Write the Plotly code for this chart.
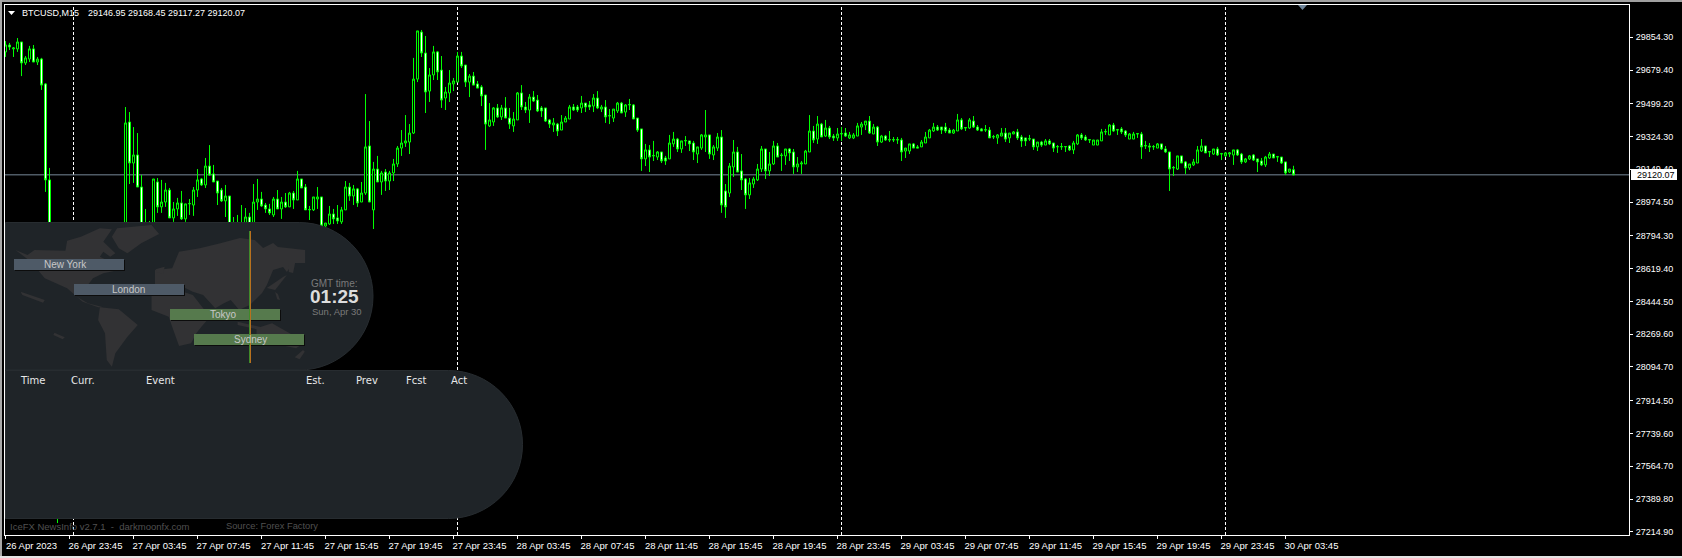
# BTCUSD M15 terminal chart with the session and news panels on top

import pandas as pd
import plotly.graph_objects as go

# 15 minute bars (bars 12-29 sit behind the panel, estimated)
opens = [
    29776, 29813, 29792, 29792, 29829, 29717, 29738, 29792, 29722, 29738,
    29605, 29093, 28799, 28452, 27812, 28025, 27919, 28185, 28079, 28292,
    28399, 28265, 28452, 28532, 28426, 28559, 28639, 28532, 28666, 28719,
    28772, 29402, 29183, 29226, 29055, 28826, 28772, 28837, 29082, 28949,
    28975, 29039, 28890, 28938, 28970, 28885, 28965, 28959, 29039, 29098,
    29066, 29167, 29125, 29087, 29039, 28981, 29007, 28799, 28837, 28837,
    28858, 28895, 28847, 28975, 28991, 28959, 28938, 28906, 28991, 28938,
    28975, 28949, 29023, 28986, 29098, 29055, 28933, 28933, 28991, 29002,
    28847, 28858, 28911, 28890, 28869, 28933, 29055, 29007, 29045, 28975,
    29023, 29274, 28933, 29151, 29082, 29135, 29087, 29130, 29178, 29263,
    29290, 29295, 29343, 29631, 29882, 29770, 29567, 29653, 29776, 29679,
    29530, 29557, 29605, 29615, 29754, 29706, 29615, 29647, 29605, 29589,
    29546, 29381, 29402, 29477, 29429, 29477, 29423, 29381, 29413, 29557,
    29482, 29466, 29535, 29519, 29477, 29477, 29413, 29386, 29391, 29359,
    29402, 29418, 29482, 29482, 29477, 29503, 29493, 29487, 29530, 29471,
    29482, 29434, 29423, 29461, 29503, 29455, 29493, 29493, 29423, 29365,
    29205, 29253, 29221, 29215, 29242, 29210, 29205, 29285, 29311, 29258,
    29301, 29301, 29290, 29231, 29263, 29322, 29333, 29226, 29263, 29322,
    29034, 29023, 29162, 29242, 29141, 29098, 29013, 29071, 29093, 29151,
    29258, 29141, 29178, 29274, 29223, 29221, 29258, 29242, 29162, 29178,
    29178, 29242, 29354, 29311, 29391, 29327, 29370, 29327, 29317, 29338,
    29343, 29317, 29317, 29327, 29375, 29386, 29407, 29338, 29375, 29295,
    29327, 29306, 29306, 29306, 29306, 29247, 29247, 29285, 29269, 29269,
    29290, 29317, 29354, 29375, 29375, 29375, 29359, 29343, 29354, 29413,
    29370, 29370, 29407, 29375, 29365, 29359, 29359, 29322, 29317, 29327,
    29343, 29317, 29338, 29349, 29322, 29317, 29311, 29311, 29269, 29295,
    29279, 29301, 29290, 29269, 29269, 29269, 29274, 29253, 29285, 29333,
    29322, 29306, 29279, 29279, 29301, 29349, 29333, 29386, 29359, 29365,
    29354, 29311, 29311, 29338, 29338, 29274, 29274, 29269, 29263, 29285,
    29258, 29242, 29157, 29151, 29221, 29189, 29157, 29173, 29183, 29247,
    29274, 29242, 29231, 29258, 29231, 29221, 29231, 29226, 29253, 29231,
    29189, 29205, 29226, 29205, 29194, 29173, 29210, 29231, 29215, 29215,
    29189, 29135, 29146.95,
]
highs = [
    29834, 29824, 29802, 29850, 29829, 29754, 29808, 29813, 29749, 29744,
    29610, 29157, 28815, 28506, 28079, 28132, 28239, 28265, 28346, 28479,
    28452, 28532, 28612, 28586, 28639, 28719, 28692, 28746, 28772, 28815,
    29482, 29455, 29375, 29343, 29119, 28938, 28874, 29098, 29103, 29093,
    29077, 29050, 28975, 28997, 29034, 28965, 28991, 29055, 29151, 29103,
    29210, 29279, 29173, 29087, 29050, 29066, 29007, 28895, 28906, 28959,
    28943, 28917, 29071, 29098, 29029, 28970, 28965, 29002, 29039, 29002,
    29023, 29029, 29034, 29141, 29098, 29071, 28954, 29002, 29055, 29002,
    28863, 28954, 28938, 28959, 28949, 29087, 29077, 29066, 29050, 29082,
    29551, 29407, 29189, 29221, 29141, 29151, 29141, 29205, 29274, 29359,
    29439, 29391, 29744, 29888, 29893, 29861, 29690, 29808, 29781, 29754,
    29589, 29679, 29637, 29776, 29776, 29706, 29658, 29669, 29621, 29599,
    29546, 29503, 29482, 29498, 29493, 29535, 29477, 29455, 29562, 29599,
    29509, 29551, 29567, 29546, 29487, 29477, 29418, 29423, 29397, 29439,
    29434, 29493, 29498, 29493, 29541, 29503, 29514, 29551, 29567, 29493,
    29519, 29471, 29471, 29509, 29509, 29498, 29525, 29498, 29423, 29365,
    29285, 29279, 29301, 29247, 29242, 29221, 29333, 29349, 29317, 29301,
    29327, 29301, 29301, 29269, 29338, 29466, 29333, 29279, 29343, 29359,
    29071, 29183, 29306, 29269, 29231, 29103, 29103, 29109, 29178, 29274,
    29258, 29242, 29301, 29290, 29237, 29258, 29263, 29258, 29215, 29194,
    29253, 29439, 29381, 29434, 29397, 29413, 29381, 29338, 29370, 29375,
    29370, 29349, 29343, 29397, 29402, 29407, 29434, 29391, 29381, 29333,
    29333, 29354, 29322, 29322, 29317, 29263, 29285, 29290, 29279, 29306,
    29349, 29365, 29397, 29386, 29375, 29397, 29370, 29365, 29445, 29423,
    29375, 29423, 29434, 29386, 29370, 29386, 29375, 29333, 29338, 29370,
    29370, 29343, 29354, 29365, 29333, 29317, 29333, 29311, 29295, 29301,
    29311, 29311, 29290, 29279, 29290, 29271, 29279, 29301, 29338, 29343,
    29333, 29311, 29306, 29306, 29365, 29365, 29391, 29397, 29365, 29375,
    29359, 29343, 29349, 29343, 29349, 29301, 29290, 29279, 29290, 29285,
    29274, 29242, 29167, 29221, 29221, 29194, 29178, 29205, 29274, 29311,
    29274, 29247, 29258, 29269, 29237, 29242, 29242, 29253, 29258, 29237,
    29210, 29226, 29231, 29205, 29210, 29221, 29242, 29231, 29221, 29215,
    29189, 29151, 29168.45,
]
lows = [
    29749, 29786, 29749, 29776, 29647, 29706, 29722, 29722, 29706, 29573,
    29029, 28746, 28346, 27262, 27705, 27812, 27865, 28025, 27999, 28239,
    28212, 28212, 28399, 28372, 28372, 28506, 28479, 28479, 28612, 28666,
    28746, 29071, 29077, 29055, 28772, 28719, 28719, 28815, 28917, 28917,
    28949, 28890, 28869, 28901, 28879, 28869, 28906, 28901, 29002, 29061,
    29050, 29114, 29082, 28959, 28975, 28895, 28826, 28772, 28772, 28815,
    28837, 28826, 28826, 28933, 28949, 28917, 28906, 28895, 28938, 28885,
    28943, 28949, 28938, 28986, 29050, 28933, 28879, 28927, 28938, 28826,
    28842, 28853, 28858, 28858, 28858, 28933, 28981, 28959, 28949, 28975,
    29013, 28975, 28831, 29082, 29013, 29034, 29039, 29087, 29162, 29221,
    29269, 29231, 29338, 29615, 29749, 29450, 29509, 29626, 29626, 29477,
    29466, 29509, 29567, 29615, 29690, 29589, 29535, 29599, 29583, 29487,
    29253, 29375, 29381, 29423, 29413, 29423, 29365, 29349, 29413, 29466,
    29450, 29397, 29509, 29455, 29429, 29402, 29370, 29349, 29327, 29359,
    29402, 29418, 29461, 29455, 29450, 29455, 29466, 29455, 29471, 29455,
    29397, 29391, 29402, 29450, 29450, 29429, 29466, 29418, 29349, 29141,
    29167, 29135, 29194, 29199, 29183, 29173, 29205, 29269, 29242, 29237,
    29274, 29247, 29199, 29183, 29253, 29242, 29205, 29199, 29247, 28917,
    28890, 29002, 29109, 29135, 29039, 28938, 28991, 29050, 29087, 29135,
    29098, 29114, 29173, 29215, 29141, 29173, 29194, 29125, 29135, 29125,
    29178, 29242, 29290, 29285, 29322, 29322, 29311, 29301, 29301, 29301,
    29322, 29311, 29311, 29327, 29333, 29359, 29338, 29338, 29274, 29290,
    29301, 29295, 29295, 29285, 29194, 29210, 29231, 29263, 29263, 29269,
    29290, 29317, 29349, 29354, 29338, 29343, 29343, 29338, 29354, 29359,
    29354, 29365, 29370, 29354, 29354, 29349, 29317, 29311, 29285, 29327,
    29295, 29290, 29338, 29306, 29269, 29274, 29301, 29253, 29247, 29269,
    29279, 29279, 29242, 29237, 29253, 29242, 29247, 29231, 29279, 29306,
    29301, 29290, 29279, 29279, 29301, 29333, 29333, 29349, 29333, 29338,
    29322, 29311, 29311, 29317, 29205, 29258, 29242, 29253, 29263, 29253,
    29237, 29034, 29114, 29146, 29183, 29125, 29146, 29167, 29183, 29242,
    29237, 29215, 29226, 29221, 29199, 29215, 29215, 29173, 29221, 29178,
    29183, 29199, 29194, 29135, 29167, 29162, 29205, 29210, 29189, 29178,
    29119, 29130, 29117.27,
]
closes = [
    29813, 29802, 29797, 29829, 29717, 29744, 29792, 29722, 29738, 29599,
    29093, 28799, 28452, 27812, 28025, 27919, 28185, 28079, 28292, 28399,
    28265, 28452, 28532, 28426, 28559, 28639, 28532, 28666, 28719, 28772,
    29397, 29183, 29226, 29055, 28799, 28772, 28815, 29098, 28949, 28975,
    29039, 28890, 28938, 28970, 28885, 28965, 28967, 29039, 29093, 29066,
    29167, 29119, 29082, 29023, 28981, 29007, 28837, 28837, 28804, 28858,
    28895, 28847, 28975, 28991, 28954, 28938, 28917, 28991, 28938, 28975,
    28949, 29023, 28986, 29098, 29050, 28933, 28935, 29002, 29002, 28847,
    28863, 28911, 28885, 28874, 28933, 29055, 29007, 29045, 28970, 29023,
    29269, 28975, 29151, 29082, 29130, 29087, 29130, 29178, 29263, 29290,
    29301, 29343, 29631, 29888, 29770, 29562, 29653, 29776, 29669, 29519,
    29562, 29610, 29621, 29754, 29701, 29615, 29647, 29599, 29583, 29541,
    29391, 29413, 29477, 29429, 29477, 29423, 29391, 29418, 29557, 29482,
    29466, 29535, 29514, 29461, 29461, 29407, 29391, 29397, 29354, 29402,
    29423, 29482, 29466, 29466, 29503, 29482, 29482, 29530, 29477, 29482,
    29429, 29436, 29471, 29503, 29450, 29493, 29495, 29418, 29359, 29205,
    29253, 29215, 29223, 29242, 29194, 29194, 29290, 29311, 29258, 29301,
    29303, 29285, 29242, 29269, 29333, 29333, 29231, 29269, 29322, 28959,
    28949, 29167, 29242, 29135, 29093, 29013, 29077, 29098, 29151, 29258,
    29141, 29178, 29274, 29215, 29225, 29258, 29237, 29162, 29178, 29183,
    29247, 29354, 29306, 29391, 29322, 29370, 29322, 29317, 29338, 29340,
    29327, 29333, 29333, 29381, 29391, 29407, 29343, 29375, 29295, 29327,
    29306, 29308, 29308, 29308, 29242, 29263, 29285, 29263, 29263, 29295,
    29322, 29359, 29375, 29359, 29359, 29354, 29343, 29359, 29413, 29365,
    29372, 29413, 29375, 29359, 29354, 29361, 29317, 29324, 29333, 29343,
    29311, 29343, 29349, 29317, 29301, 29301, 29313, 29269, 29295, 29279,
    29301, 29285, 29263, 29271, 29271, 29271, 29253, 29290, 29333, 29317,
    29306, 29308, 29306, 29306, 29349, 29351, 29386, 29354, 29361, 29349,
    29333, 29338, 29338, 29340, 29269, 29276, 29269, 29271, 29285, 29258,
    29242, 29151, 29159, 29221, 29183, 29157, 29178, 29189, 29253, 29274,
    29237, 29244, 29258, 29226, 29233, 29237, 29237, 29253, 29226, 29189,
    29205, 29221, 29199, 29189, 29173, 29215, 29231, 29210, 29217, 29183,
    29130, 29151, 29120.07,
]

price_ticks = [
    29854.30, 29679.40, 29499.20, 29324.30, 29149.40, 28974.50, 28794.30, 28619.40,
    28444.50, 28269.60, 28094.70, 27914.50, 27739.60, 27564.70, 27389.80, 27214.90,
]
time_labels = [
    "26 Apr 2023", "26 Apr 23:45", "27 Apr 03:45", "27 Apr 07:45", "27 Apr 11:45",
    "27 Apr 15:45", "27 Apr 19:45", "27 Apr 23:45", "28 Apr 03:45", "28 Apr 07:45",
    "28 Apr 11:45", "28 Apr 15:45", "28 Apr 19:45", "28 Apr 23:45", "29 Apr 03:45",
    "29 Apr 07:45", "29 Apr 11:45", "29 Apr 15:45", "29 Apr 19:45", "29 Apr 23:45",
    "30 Apr 03:45",
]
day_starts = ["2023-04-27 00:00", "2023-04-28 00:00", "2023-04-29 00:00", "2023-04-30 00:00"]
last_price = 29120.07

WIDTH, HEIGHT = 1682, 558
LEFT, RIGHT, TOP, BOTTOM = 5, 1629, 5, 535
BAR_PX = 4
LABEL_FONT = "Liberation Sans"
WHITE = "#ffffff"
PANEL = "#1f2428"
LAND = "#323234"
GREY_TEXT = "#7a7a7a"


def px(x):
    return (x - LEFT) / (RIGHT - LEFT)


def py(y):
    return (BOTTOM - y) / (BOTTOM - TOP)


def rect(x0, y0, x1, y1, color):
    return dict(type="rect", xref="paper", yref="paper", layer="above",
                x0=px(x0), x1=px(x1), y0=py(y0), y1=py(y1),
                fillcolor=color, line=dict(width=0))


def outline(points, color):
    path = "M" + " L".join(f"{px(x):.5f},{py(y):.5f}" for x, y in points) + " Z"
    return dict(type="path", xref="paper", yref="paper", layer="above", path=path,
                fillcolor=color, line=dict(width=0))


def rounded_panel(x_right, y0, y1):
    # flat on the left, half circle on the right
    r = (y1 - y0) / 2
    k = r * 0.5523
    x_start = x_right - r
    ym = (y0 + y1) / 2
    path = (
        f"M{px(LEFT + 0.5)},{py(y0)} L{px(x_start)},{py(y0)} "
        f"C{px(x_start + k)},{py(y0)} {px(x_right)},{py(ym - k)} {px(x_right)},{py(ym)} "
        f"C{px(x_right)},{py(ym + k)} {px(x_start + k)},{py(y1)} {px(x_start)},{py(y1)} "
        f"L{px(LEFT + 0.5)},{py(y1)} Z"
    )
    return dict(type="path", xref="paper", yref="paper", layer="above", path=path,
                fillcolor=PANEL, line=dict(color="#272c30", width=1))


def label(x, y, text, size=10, color=WHITE, anchor="center", family=LABEL_FONT, bold=False):
    return dict(xref="paper", yref="paper", x=px(x), y=py(y), text=f"<b>{text}</b>" if bold else text,
                xanchor=anchor, yanchor="middle", showarrow=False, align="left",
                font=dict(family=family, size=size, color=color))


def map_points(points):
    # outline points are taken from the 2.9x / 3x crop of the panel
    return [(x / 2.904, 220 + y / 3) for x, y in points]


north_america = [(45, 90), (80, 105), (100, 90), (190, 92), (195, 62), (235, 50), (290, 25), (325, 28),
                 (300, 65), (335, 100), (320, 110), (300, 95), (290, 110), (330, 130), (360, 135),
                 (345, 150), (300, 160), (270, 175), (255, 195), (215, 200), (215, 225), (255, 250),
                 (300, 262), (285, 262), (240, 245), (195, 205), (130, 175), (90, 125)]
south_america = [(290, 262), (345, 268), (400, 315), (370, 350), (335, 400), (325, 440), (310, 420),
                 (305, 340), (285, 300)]
greenland = [(325, 50), (340, 25), (440, 15), (462, 42), (410, 70), (370, 100), (345, 85)]
eurasia = [(450, 150), (500, 145), (520, 95), (580, 85), (640, 70), (697, 54), (740, 60), (764, 84),
           (793, 69), (807, 81), (886, 90), (886, 129), (851, 129), (833, 156), (822, 141), (793, 150),
           (775, 195), (761, 219), (726, 255), (706, 264), (695, 270), (670, 240), (650, 250),
           (625, 265), (590, 225), (560, 215), (530, 200), (495, 205), (450, 195)]
africa = [(440, 225), (500, 205), (560, 225), (590, 265), (610, 290), (585, 320), (570, 340),
          (555, 370), (520, 378), (500, 320), (490, 290), (440, 270)]
australia = [(745, 325), (790, 310), (850, 345), (880, 370), (860, 385), (790, 370), (745, 365)]
new_zealand = [(880, 390), (885, 395), (870, 418), (856, 412)]
sakhalin = [(837, 129), (857, 129), (851, 159), (839, 156)]
japan = [(822, 171), (833, 165), (799, 210), (775, 204)]
philippines = [(799, 216), (807, 222), (813, 240), (805, 238)]
indonesia = [(690, 305), (760, 322), (755, 330), (690, 315)]
pacific_isles = [(60, 215), (130, 240), (125, 248), (65, 225)]
caribbean = [(158, 338), (188, 352), (182, 358), (155, 345)]
britain = [(452, 148), (478, 140), (474, 160), (455, 158)]

times = pd.date_range("2023-04-26 19:45", periods=len(opens), freq="15min")
bar = pd.Timedelta(minutes=15)
x_start = times[0] - bar * 0.5 / BAR_PX
x_end = x_start + bar * (RIGHT - LEFT) / BAR_PX

fig = go.Figure(
    go.Candlestick(
        x=times, open=opens, high=highs, low=lows, close=closes,
        increasing=dict(line=dict(color="#00ff00", width=1), fillcolor="#000000"),
        decreasing=dict(line=dict(color="#00ff00", width=1), fillcolor="#ffffff"),
        whiskerwidth=0,
    )
)

shapes = []

# Day separators and the bid line, under the candles
for day in day_starts:
    shapes.append(dict(type="line", xref="x", yref="paper", layer="below", x0=day, x1=day, y0=0, y1=1,
                       line=dict(color=WHITE, width=1, dash="3px,2px")))
shapes.append(dict(type="line", xref="paper", yref="y", layer="below", x0=0, x1=1,
                   y0=last_price, y1=last_price, line=dict(color="#778899", width=1)))

# Window edges around the chart
shapes += [rect(0, 0, WIDTH, 2, "#a0a0a0"), rect(0, 0, 2, HEIGHT, "#a8a8a8"),
           rect(0, 556, WIDTH, HEIGHT, "#e4e4e4")]

# Markers at the top
shapes.append(outline([(8, 11), (15, 11), (11.5, 15)], WHITE))
shapes.append(outline([(1298, 5), (1307, 5), (1302.5, 10)], "#6e8499"))

# Last price box hides the tick label under it
shapes.append(rect(1631, 169, 1677, 180, WHITE))

# Panels
shapes.append(rounded_panel(373, 222.5, 370))
shapes.append(rounded_panel(522.5, 370.5, 518.5))
for land in [north_america, south_america, greenland, eurasia, africa, australia, new_zealand,
             sakhalin, japan, philippines, indonesia, pacific_isles, caribbean, britain]:
    shapes.append(outline(map_points(land), LAND))

# Session bars
sessions = [
    ("New York", 14, 124, 259, "#4e5a67", 65),
    ("London", 74, 184, 284, "#4e5a67", 128),
    ("Tokyo", 170, 280, 309, "#567a4d", 224),
    ("Sydney", 194, 304, 334, "#567a4d", 250.5),
]
annotations = []
for name, x0, x1, y0, color, text_x in sessions:
    shapes.append(rect(x0 + 1, y0 + 1, x1 + 1, y0 + 12, "#0c0c0c"))
    shapes.append(rect(x0, y0, x1, y0 + 11, color))
    annotations.append(label(text_x, y0 + 5.5, name, size=10, color="#c8c8c8"))

shapes.append(rect(249, 231, 250, 363, "#3f8a2a"))
shapes.append(rect(250, 231, 251, 363, "#b8701e"))

annotations += [
    label(20, 12.5, "BTCUSD,M15", size=9, anchor="left"),
    label(86, 12.5, "29146.95 29168.45 29117.27 29120.07", size=9, anchor="left"),
    label(334, 283, "GMT time:", size=10, color=GREY_TEXT),
    label(334.5, 296, "01:25", size=19, color="#dcdcdc", bold=True),
    label(336.5, 311, "Sun, Apr 30", size=9.5, color=GREY_TEXT),
    label(7.5, 526, "IceFX NewsInfo v2.7.1&nbsp;&nbsp;-&nbsp;&nbsp;darkmoonfx.com", size=9.5, color="#505050", anchor="left"),
    label(224, 526, "Source: Forex Factory", size=9.3, color="#505050", anchor="left"),
    label(1635, 174.5, f"{last_price:.2f}", size=9, color="#000000", anchor="left"),
]
for text, x in [("Time", 32), ("Curr.", 83), ("Event", 160), ("Est.", 315), ("Prev", 367), ("Fcst", 416), ("Act", 459)]:
    annotations.append(label(x, 380, text, size=10, color="#e8e8e8", family="DejaVu Sans"))

fig.update_layout(
    width=WIDTH, height=HEIGHT,
    margin=dict(l=LEFT, r=WIDTH - RIGHT, t=TOP, b=HEIGHT - BOTTOM, autoexpand=False),
    paper_bgcolor="#000000", plot_bgcolor="#000000",
    showlegend=False, boxgap=0.5, boxgroupgap=0,
    shapes=shapes, annotations=annotations,
)
fig.update_xaxes(
    type="date", range=[x_start, x_end], rangeslider_visible=False, showgrid=False, zeroline=False,
    showline=True, mirror=True, linecolor=WHITE, linewidth=1,
    tickmode="array", tickvals=times[::16], ticktext=time_labels, tickangle=0,
    ticks="outside", ticklen=3, tickcolor=WHITE, ticklabelshift=26, ticklabelstandoff=-1,
    ticklabeloverflow="allow",
    tickfont=dict(family=LABEL_FONT, size=9.5, color=WHITE),
)
fig.update_yaxes(
    side="right", range=[27198.2, 30026.3], showgrid=False, zeroline=False,
    showline=True, mirror=True, linecolor=WHITE, linewidth=1,
    tickmode="array", tickvals=price_ticks, ticktext=[f"{p:.2f}" for p in price_ticks],
    ticks="outside", ticklen=3, tickcolor=WHITE, ticklabelstandoff=1,
    tickfont=dict(family=LABEL_FONT, size=9, color=WHITE),
)

fig.write_html(
    "out.html",
    config=dict(displayModeBar=False),
    post_script="document.body.style.margin='0';document.body.style.background='#000';document.body.style.overflow='hidden';",
)
